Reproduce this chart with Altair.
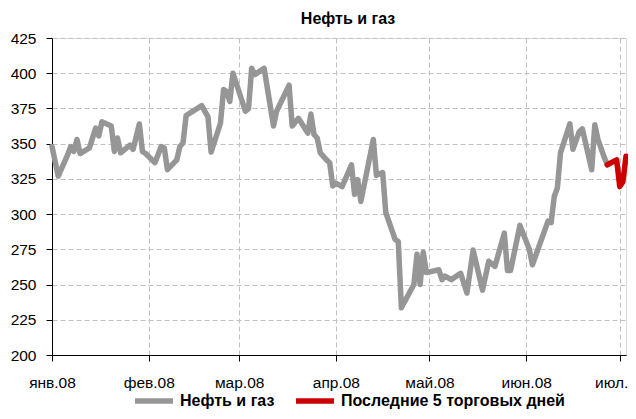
import json
import altair as alt
import pandas as pd

# ---- data ----
oil_dates = [
    "2008-01-01", "2008-01-03", "2008-01-06", "2008-01-07", "2008-01-08", "2008-01-09",
    "2008-01-10", "2008-01-13", "2008-01-15", "2008-01-16", "2008-01-17", "2008-01-20",
    "2008-01-21", "2008-01-22", "2008-01-23", "2008-01-26", "2008-01-27", "2008-01-29",
    "2008-01-30", "2008-01-31", "2008-02-03", "2008-02-05", "2008-02-06", "2008-02-07",
    "2008-02-10", "2008-02-11", "2008-02-12", "2008-02-13", "2008-02-18", "2008-02-20",
    "2008-02-21", "2008-02-24", "2008-02-25", "2008-02-26", "2008-02-27", "2008-02-28",
    "2008-03-03", "2008-03-04", "2008-03-05", "2008-03-06", "2008-03-09", "2008-03-12",
    "2008-03-13", "2008-03-17", "2008-03-18", "2008-03-20", "2008-03-23", "2008-03-24",
    "2008-03-25", "2008-03-26", "2008-03-27", "2008-03-29", "2008-03-30", "2008-03-31",
    "2008-04-01", "2008-04-03", "2008-04-06", "2008-04-07", "2008-04-08", "2008-04-09",
    "2008-04-13", "2008-04-14", "2008-04-16", "2008-04-17", "2008-04-20", "2008-04-21",
    "2008-04-22", "2008-04-26", "2008-04-27", "2008-04-28", "2008-04-29", "2008-04-30",
    "2008-05-04", "2008-05-05", "2008-05-06", "2008-05-08", "2008-05-11", "2008-05-13",
    "2008-05-15", "2008-05-18", "2008-05-20", "2008-05-22", "2008-05-25", "2008-05-26",
    "2008-05-27", "2008-05-30", "2008-06-02", "2008-06-03", "2008-06-08", "2008-06-09",
    "2008-06-10", "2008-06-11", "2008-06-12", "2008-06-15", "2008-06-16", "2008-06-18",
    "2008-06-19", "2008-06-22", "2008-06-23", "2008-06-24", "2008-06-26", "2008-06-27",
]
oil_values = [
    348, 327, 342, 348, 344.5, 353,
    343, 347, 361, 355.5, 365.5, 362.5,
    344.5, 354, 343.5, 349, 346, 364,
    344.5, 343, 336.5, 348, 347, 331.5,
    338.5, 348, 350.5, 370, 377, 369,
    344, 364.5, 388.5, 387, 380, 400,
    373, 375, 403.5, 399, 403.5, 362.5,
    373, 391.5, 362.5, 368, 357.5, 371,
    356.5, 354, 343.5, 338.5, 336.5, 320,
    322, 319.5, 335, 314, 324.5, 309,
    353, 327.5, 329.5, 301, 282, 280.5,
    233.5, 250, 271.5, 250, 273, 258.5,
    260.5, 253.5, 256, 253.5, 258, 244,
    274.5, 246, 266.5, 263, 286.5, 260,
    260, 292, 275, 264, 295, 294,
    312.5, 318.5, 343.5, 364, 346, 358.5,
    360.5, 331.5, 363.5, 353, 340.5, 335,
]
last5_dates = ["2008-06-27", "2008-06-30", "2008-07-01", "2008-07-02", "2008-07-03"]
last5_values = [335, 338.5, 319.5, 323, 341]

series_names = ["Нефть и газ", "Последние 5 торговых дней"]
series_colors = ["#969696", "#cc0000"]
month_labels = ["янв", "фев", "мар", "апр", "май", "июн", "июл"]
y_ticks = [200, 225, 250, 275, 300, 325, 350, 375, 400, 425]
chart_title = "Нефть и газ"

df = pd.DataFrame({
    "date": oil_dates + last5_dates,
    "value": oil_values + last5_values,
    "series": [series_names[0]] * len(oil_dates) + [series_names[1]] * len(last5_dates),
})

month_ticks = [alt.DateTime(year=2008, month=m, date=1, utc=True) for m in range(1, 8)]
x_domain = [alt.DateTime(year=2008, month=1, date=1, utc=True),
            alt.DateTime(year=2008, month=7, date=3, utc=True)]

label_expr = (json.dumps(month_labels, ensure_ascii=False)
              + "[utcmonth(datum.value)] + '.' + utcFormat(datum.value, '%y')")

FONT = "Liberation Sans"

chart = alt.Chart(df).mark_line(
    strokeWidth=5.5, strokeJoin="round", strokeCap="round"
).encode(
    x=alt.X("date:T",
            scale=alt.Scale(type="utc", domain=x_domain, nice=False),
            axis=alt.Axis(values=month_ticks, labelExpr=label_expr, title=None,
                          grid=True, gridDash=[5, 3], gridColor="#c0c0c0",
                          domainColor="black", tickColor="black", tickSize=6,
                          labelPadding=14, labelFontSize=15.5, labelFont=FONT,
                          labelColor="black", labelFlush=False, labelOverlap=False)),
    y=alt.Y("value:Q",
            scale=alt.Scale(domain=[200, 425], nice=False, zero=False),
            axis=alt.Axis(values=y_ticks, title=None,
                          grid=True, gridDash=[5, 3], gridColor="#c0c0c0",
                          domainColor="black", tickColor="black", tickSize=6,
                          labelPadding=10, labelFontSize=15.5, labelFont=FONT,
                          labelColor="black")),
    color=alt.Color("series:N",
                    scale=alt.Scale(domain=series_names, range=series_colors),
                    legend=alt.Legend(orient="none", legendX=80, legendY=341,
                                      direction="horizontal", title=None,
                                      symbolType="stroke", symbolSize=1444,
                                      symbolStrokeWidth=5.5,
                                      labelFontSize=16, labelFontWeight="bold",
                                      labelFont=FONT, labelColor="black",
                                      labelLimit=400,
                                      columnPadding=10, labelOffset=4, padding=0)),
).properties(
    width=574,
    height=317,
    title=alt.TitleParams(chart_title, fontSize=16, font=FONT, fontWeight="bold",
                          color="black", anchor="middle", offset=3, dx=9, dy=12,
                          baseline="alphabetic"),
    padding={"left": 44, "top": 30, "right": 2, "bottom": 54},
    autosize=alt.AutoSizeParams(type="none"),
).configure_view(
    stroke="#7f7f7f", strokeWidth=1
).configure(background="white")

chart.save("out.html", embed_options={"renderer": "svg", "actions": False})
